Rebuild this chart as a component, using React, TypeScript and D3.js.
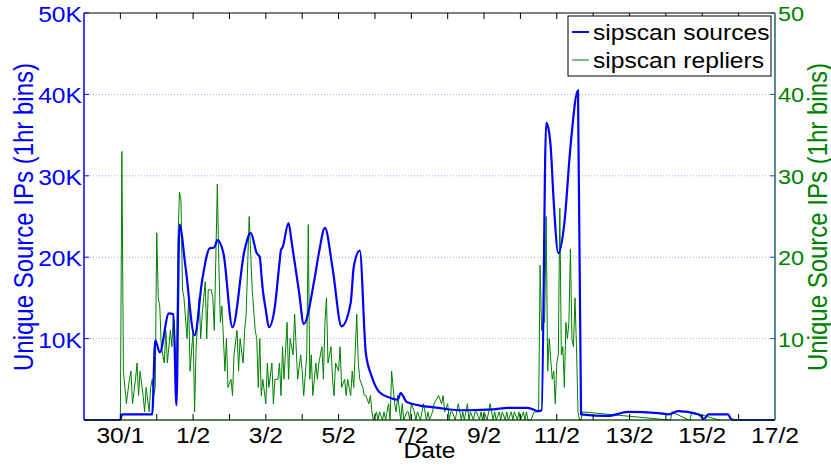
import * as d3 from 'd3';

// hours since 29/1 00:00, unique source counts
const sourceHours = [0, 24, 25, 45, 47, 50, 56, 59, 61, 63, 67, 73, 78, 83, 86, 88, 92, 98, 106, 110, 114, 116, 117, 118, 120, 122, 126, 129, 130, 131, 135, 137, 142, 145, 152, 155, 159, 164, 170, 176, 178, 182, 186, 190, 195, 201, 207, 209, 213, 221, 234, 247, 254, 270, 280, 293, 300, 302, 305, 306, 308, 310, 313, 317, 321, 326, 328, 346, 359, 379, 386, 392, 405, 407, 409, 412, 425, 427, 430, 456];
const sourceCounts = [0, 0, 700, 700, 9800, 8300, 13100, 13000, 1800, 24000, 18800, 10400, 17200, 21100, 21200, 22100, 20500, 11400, 20900, 23000, 20500, 20000, 18000, 16000, 13500, 11400, 14000, 19300, 20900, 21200, 24200, 21900, 15600, 11800, 17200, 20500, 23600, 18700, 11500, 14400, 18800, 20800, 8200, 5300, 3400, 2800, 2500, 3300, 2200, 1800, 1500, 1200, 1200, 1300, 1500, 1500, 1100, 1200, 36500, 36200, 33500, 26700, 20500, 24200, 33500, 40500, 700, 500, 1000, 850, 700, 1100, 700, 500, 100, 700, 700, 100, 0, 0];

const replierHours = [0, 24, 25, 26, 28, 30, 31, 32, 34, 35, 36, 37, 39, 40, 41, 43, 44, 45, 46, 47, 48, 49, 50, 51, 53, 54, 55, 57, 58, 59, 61, 62, 63, 64, 65, 66, 68, 69, 70, 72, 73, 74, 76, 77, 78, 80, 81, 82, 84, 85, 86, 88, 89, 90, 91, 93, 94, 95, 97, 98, 99, 101, 102, 103, 105, 106, 107, 109, 111, 113, 114, 115, 116, 117, 118, 120, 121, 122, 124, 125, 126, 128, 129, 130, 131, 132, 134, 135, 136, 138, 139, 140, 141, 143, 144, 145, 147, 148, 149, 150, 151, 153, 154, 155, 157, 158, 159, 160, 161, 163, 164, 165, 166, 168, 169, 170, 172, 173, 174, 176, 177, 178, 180, 181, 182, 184, 185, 186, 188, 189, 190, 191, 193, 194, 195, 197, 198, 199, 201, 202, 203, 205, 206, 207, 209, 210, 211, 213, 214, 215, 216, 218, 219, 220, 222, 223, 224, 226, 227, 228, 230, 231, 234, 236, 237, 238, 240, 241, 242, 243, 245, 246, 247, 249, 250, 251, 253, 254, 255, 257, 258, 259, 261, 262, 263, 264, 266, 267, 268, 270, 271, 272, 274, 275, 276, 278, 279, 280, 282, 283, 284, 286, 287, 288, 290, 291, 292, 293, 295, 297, 300, 301, 302, 303, 304, 305, 306, 307, 309, 310, 311, 312, 313, 314, 315, 316, 317, 318, 319, 320, 321, 322, 323, 324, 325, 326, 327, 328, 329, 386, 387, 388, 399, 400, 401, 419, 420, 421, 456];
const replierCounts = [0, 0, 33, 6, 2, 5, 6, 2, 5, 7, 3, 6, 3, 1, 4, 1, 4, 5, 3, 4, 23, 15, 14, 9, 7, 11, 7, 11, 9, 13, 6, 22, 28, 27, 16, 15, 10, 15, 6, 11, 1, 9, 15, 10, 13, 17, 10, 16, 16, 15, 11, 29, 19, 12, 14, 6, 10, 4, 5, 3, 8, 11, 6, 10, 7, 11, 13, 25, 16, 11, 10, 4, 10, 3, 5, 2, 7, 4, 7, 2, 5, 5, 7, 3, 9, 5, 12, 5, 10, 8, 13, 9, 5, 8, 6, 3, 8, 24, 5, 8, 3, 7, 5, 7, 9, 5, 12, 15, 7, 9, 5, 3, 7, 6, 9, 4, 5, 3, 5, 3, 6, 4, 13, 7, 5, 4, 3, 3, 2, 3, 1, 0, 1, 0, 1, 0, 1, 0, 2, 0, 6, 2, 1, 3, 0, 2, 0, 1, 1, 0, 2, 1, 0, 1, 0, 1, 2, 0, 1, 0, 1, 2, 3, 2, 3, 1, 2, 0, 1, 1, 0, 1, 2, 0, 1, 0, 2, 0, 1, 0, 1, 1, 0, 1, 0, 1, 0, 1, 2, 0, 1, 0, 1, 0, 1, 0, 1, 0, 1, 0, 1, 0, 1, 0, 1, 0, 1, 0, 0, 1, 1, 19, 11, 12, 12, 25, 6, 10, 5, 6, 2, 7, 8, 26, 8, 9, 4, 12, 10, 12, 21, 10, 9, 15, 9, 1, 0, 0, 1, 0, 0, 1, 0, 0, 1, 0, 0];

const dateLabels = ['30/1', '1/2', '3/2', '5/2', '7/2', '9/2', '11/2', '13/2', '15/2', '17/2'];
const leftTicks = [10000, 20000, 30000, 40000, 50000];
const leftTickLabels = ['10K', '20K', '30K', '40K', '50K'];
const rightTicks = [10, 20, 30, 40, 50];
const gridTicks = [10000, 20000, 30000, 40000];
const seriesNames = ['sipscan sources', 'sipscan repliers'];

const W = 831;
const H = 470;
const M = { left: 84, right: 775, top: 13, bottom: 420 };
const FONT = 'Liberation Sans, Arial, Helvetica, sans-serif';
const SX = 1.12;
const BLUE = '#0000ff';
const GREEN = '#008000';

export default function App() {
  const x = d3.scaleLinear().domain([0, 456]).range([M.left, M.right]);
  const yL = d3.scaleLinear().domain([0, 50000]).range([M.bottom, M.top]);
  const yR = d3.scaleLinear().domain([0, 50]).range([M.bottom, M.top]);

  const dayTicks = d3.range(0, 457, 24);
  const labelHours = dayTicks.filter((h) => h >= 24 && (h / 24) % 2 === 1);

  const blueLine = d3.line<number>()
    .x((h) => x(h))
    .y((_, i) => yL(sourceCounts[i]))
    .curve(d3.curveMonotoneX)(sourceHours) || '';

  const greenLine = d3.line<number>()
    .x((h) => x(h))
    .y((_, i) => yR(replierCounts[i]))(replierHours) || '';

  const label = (tx: number, ty: number, text: string, size: number, fill: string, anchor = 'middle') => (
    <text
      key={`${text}-${tx}-${ty}`}
      transform={`translate(${tx},${ty}) scale(${SX},1)`}
      textAnchor={anchor}
      fontSize={size}
      fill={fill}
    >
      {text}
    </text>
  );

  return (
    <div style={{ position: 'absolute', left: 0, top: 0 }}>
      <svg width={W} height={H} fontFamily={FONT} style={{ display: 'block', background: '#fff' }}>
        <rect width={W} height={H} fill="#fff" />

        {/* grid */}
        {gridTicks.map((t) => (
          <line key={t} x1={M.left} x2={M.right} y1={yL(t)} y2={yL(t)}
            stroke="#a8a8f0" strokeWidth={1} strokeDasharray="1,2" />
        ))}

        {/* series */}
        <path d={greenLine} fill="none" stroke={GREEN} strokeWidth={1} strokeLinejoin="round" />
        <path d={blueLine} fill="none" stroke={BLUE} strokeWidth={2.2} strokeLinejoin="round" />

        {/* frame */}
        <line x1={M.left} x2={M.right} y1={M.top} y2={M.top} stroke="#000" />
        <line x1={M.left} x2={M.right} y1={M.bottom} y2={M.bottom} stroke="#000" />
        <line x1={M.left} x2={M.right} y1={M.bottom} y2={M.bottom} stroke={GREEN} strokeOpacity={0.6} />
        <line x1={M.left} x2={M.left} y1={M.top} y2={M.bottom} stroke={BLUE} strokeWidth={1.5} />
        <line x1={M.right} x2={M.right} y1={M.top} y2={M.bottom} stroke="#22607a" strokeWidth={1.5} />

        {/* x ticks */}
        {dayTicks.slice(1, -1).map((h) => (
          <g key={h}>
            <line x1={x(h)} x2={x(h)} y1={M.bottom} y2={M.bottom - 6} stroke="#000" />
            <line x1={x(h)} x2={x(h)} y1={M.top} y2={M.top + 6} stroke="#000" />
          </g>
        ))}
        {labelHours.map((h, i) => label(x(h), 443, dateLabels[i], 22, '#000'))}

        {/* left axis */}
        {leftTicks.map((t, i) => (
          <g key={t}>
            <line x1={M.left} x2={M.left + 5} y1={yL(t)} y2={yL(t)} stroke={BLUE} />
            {label(M.left - 2, yL(t) + 9, leftTickLabels[i], 22, BLUE, 'end')}
          </g>
        ))}

        {/* right axis */}
        {rightTicks.map((t) => (
          <g key={t}>
            <line x1={M.right} x2={M.right - 5} y1={yR(t)} y2={yR(t)} stroke="#22607a" />
            {label(M.right + 3, yR(t) + 8, String(t), 21, GREEN, 'start')}
          </g>
        ))}

        {/* axis titles */}
        <text transform={`translate(33,217) scale(${SX},1) rotate(-90)`} textAnchor="middle" fontSize={24} fill={BLUE}>
          Unique Source IPs (1hr bins)
        </text>
        <text transform={`translate(827,217) scale(${SX},1) rotate(-90)`} textAnchor="middle" fontSize={24} fill={GREEN}>
          Unique Source IPs (1hr bins)
        </text>
        {label((M.left + M.right) / 2, 458, 'Date', 22, '#000')}

        {/* legend */}
        <g>
          <rect x={568} y={16} width={203} height={60} fill="#fff" stroke="#000" strokeWidth={1} />
          <line x1={572} x2={589} y1={32} y2={32} stroke={BLUE} strokeWidth={2} />
          {label(593, 40, seriesNames[0], 22, '#000', 'start')}
          <line x1={572} x2={589} y1={60} y2={60} stroke={GREEN} strokeWidth={1} />
          {label(593, 68, seriesNames[1], 22, '#000', 'start')}
        </g>
      </svg>
    </div>
  );
}
